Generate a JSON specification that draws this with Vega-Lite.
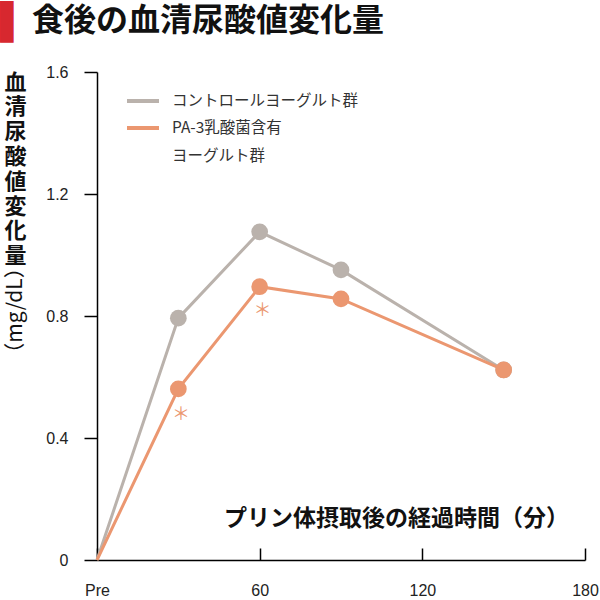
{
  "$schema": "https://vega.github.io/schema/vega-lite/v6.json",
  "width": 488,
  "height": 488,
  "autosize": {"type": "none"},
  "padding": {"left": 97, "top": 72, "right": 15, "bottom": 40},
  "background": "white",
  "title": {
    "text": "▌",
    "subtitle": "\u200B\u3000食後の血清尿酸値変化量",
    "anchor": "start",
    "frame": "group",
    "dx": -97,
    "font": "DejaVu Sans",
    "fontSize": 35,
    "fontWeight": "normal",
    "color": "#d7282f",
    "subtitleFont": "Noto Sans CJK JP",
    "subtitleFontSize": 32,
    "subtitleFontWeight": "bold",
    "subtitleColor": "#111111",
    "subtitlePadding": -35,
    "offset": 22
  },
  "config": {
    "view": {"stroke": null},
    "axis": {
      "domainColor": "#000000",
      "domainWidth": 1.5,
      "tickColor": "#000000",
      "tickWidth": 1.5,
      "grid": false,
      "labelFont": "Liberation Sans",
      "labelFontSize": 16,
      "labelColor": "#222222",
      "labelFlush": false
    }
  },
  "datasets": {
    "series": [
      {"group": "コントロールヨーグルト群", "t": 0, "v": 0},
      {"group": "コントロールヨーグルト群", "t": 30, "v": 0.793},
      {"group": "コントロールヨーグルト群", "t": 60, "v": 1.076},
      {"group": "コントロールヨーグルト群", "t": 90, "v": 0.951},
      {"group": "コントロールヨーグルト群", "t": 150, "v": 0.623},
      {"group": "PA-3乳酸菌含有ヨーグルト群", "t": 0, "v": 0},
      {"group": "PA-3乳酸菌含有ヨーグルト群", "t": 30, "v": 0.561},
      {"group": "PA-3乳酸菌含有ヨーグルト群", "t": 60, "v": 0.896},
      {"group": "PA-3乳酸菌含有ヨーグルト群", "t": 90, "v": 0.856},
      {"group": "PA-3乳酸菌含有ヨーグルト群", "t": 150, "v": 0.623}
    ],
    "marks": [
      {"t": 31, "v": 0.475, "label": "＊"},
      {"t": 61, "v": 0.815, "label": "＊"}
    ]
  },
  "encoding": {
    "x": {
      "field": "t",
      "type": "quantitative",
      "scale": {"domain": [0, 180], "nice": false, "zero": false},
      "axis": {
        "values": [0, 60, 120, 180],
        "labelExpr": "datum.value == 0 ? 'Pre' : datum.label",
        "tickSize": -12,
        "labelPadding": 34,
        "labelBaseline": "top",
        "title": "プリン体摂取後の経過時間（分）",
        "titleFont": "Noto Sans CJK JP",
        "titleFontSize": 23,
        "titleFontWeight": "bold",
        "titleColor": "#111111",
        "titleX": 299,
        "titleY": -42,
        "titleAlign": "center",
        "titleBaseline": "middle"
      }
    }
  },
  "layer": [
    {
      "data": {"name": "series"},
      "encoding": {
        "y": {
          "field": "v",
          "type": "quantitative",
          "scale": {"domain": [0, 1.6], "nice": false},
          "axis": {
            "values": [0, 0.4, 0.8, 1.2, 1.6],
            "labelExpr": "datum.value == 0 ? '0' : format(datum.value, '.1f')",
            "tickSize": 13,
            "labelPadding": 16,
            "title": ["血", "清", "尿", "酸", "値", "変", "化", "量"],
            "titleAngle": 0,
            "titleFont": "Noto Sans CJK JP",
            "titleFontSize": 22,
            "titleFontWeight": "bold",
            "titleColor": "#111111",
            "titleLineHeight": 24.8,
            "titleX": -82,
            "titleY": 0,
            "titleAlign": "center",
            "titleBaseline": "top"
          }
        },
        "color": {
          "field": "group",
          "type": "nominal",
          "scale": {
            "domain": ["コントロールヨーグルト群", "PA-3乳酸菌含有ヨーグルト群"],
            "range": ["#bab2ac", "#eb9770"]
          },
          "legend": {
            "orient": "none",
            "legendX": 28,
            "legendY": 11,
            "title": null,
            "padding": 0,
            "symbolType": "stroke",
            "symbolSize": 1024,
            "symbolStrokeWidth": 4,
            "labelFont": "Noto Sans CJK JP",
            "labelFontSize": 15.5,
            "labelColor": "#333333",
            "labelOffset": 11,
            "labelLimit": 400,
            "rowPadding": -4,
            "labelExpr": "datum.label == 'PA-3乳酸菌含有ヨーグルト群' ? ['PA-3乳酸菌含有', 'ヨーグルト群'] : datum.label",
            "encode": {
              "labels": {
                "update": {
                  "lineHeight": {"value": 28}
                }
              }
            }
          }
        }
      },
      "layer": [
        {"mark": {"type": "line", "strokeWidth": 3}},
        {
          "transform": [{"filter": "datum.t > 0"}],
          "mark": {"type": "point", "filled": true, "size": 280, "opacity": 1}
        }
      ]
    },
    {
      "data": {"name": "marks"},
      "mark": {"type": "text", "font": "Noto Sans CJK JP", "fontSize": 18, "color": "#eb9770", "baseline": "middle"},
      "encoding": {
        "y": {
          "field": "v",
          "type": "quantitative",
          "scale": {"domain": [0, 1.6], "nice": false},
          "axis": {
            "orient": "right",
            "domain": false,
            "ticks": false,
            "labels": false,
            "title": "（mg/dL）",
            "titleAngle": 270,
            "titleFont": "Noto Sans CJK JP",
            "titleFontSize": 21,
            "titleFontWeight": "normal",
            "titleColor": "#111111",
            "titleX": -570,
            "titleY": 238,
            "titleAlign": "center",
            "titleBaseline": "middle"
          }
        },
        "text": {"field": "label"}
      }
    }
  ],
  "resolve": {"scale": {"y": "independent"}, "axis": {"y": "independent"}}
}
